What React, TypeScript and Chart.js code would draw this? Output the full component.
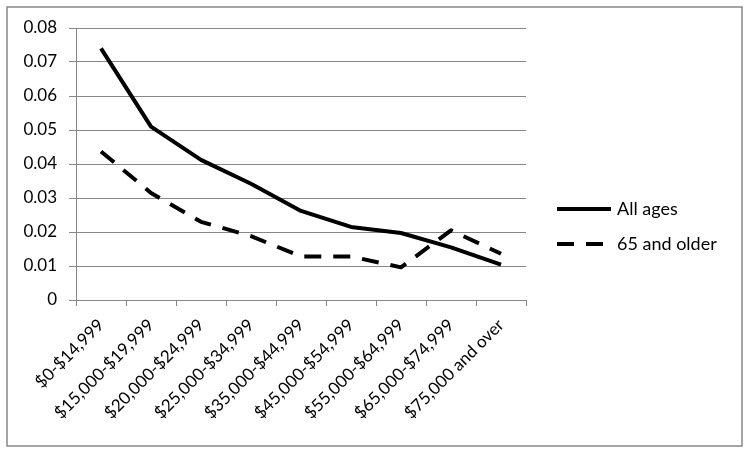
import React, { useEffect, useRef } from "react";
import { Chart, registerables } from "chart.js";

Chart.register(...registerables);

const categories = [
  "$0-$14,999",
  "$15,000-$19,999",
  "$20,000-$24,999",
  "$25,000-$34,999",
  "$35,000-$44,999",
  "$45,000-$54,999",
  "$55,000-$64,999",
  "$65,000-$74,999",
  "$75,000 and over",
];

const allAges = [0.074, 0.051, 0.0412, 0.0342, 0.0262, 0.0215, 0.0197, 0.0155, 0.0104];
const olderAges = [0.0437, 0.0315, 0.023, 0.0188, 0.0128, 0.0128, 0.0096, 0.0205, 0.0136];

const seriesNames = ["All ages", "65 and older"];
const yTickLabels = ["0", "0.01", "0.02", "0.03", "0.04", "0.05", "0.06", "0.07", "0.08"];

const FONT = "Lato, 'Open Sans', 'Liberation Sans', sans-serif";
const GRAY = "#878787";

const borderPlugin = {
  id: "outerBorder",
  afterDraw(chart: any) {
    const ctx = chart.ctx;
    ctx.save();
    ctx.strokeStyle = GRAY;
    ctx.lineWidth = 1.5;
    ctx.strokeRect(7, 7, 735, 439);
    ctx.restore();
  },
};

const legendPlugin = {
  id: "sideLegend",
  afterDraw(chart: any) {
    const ctx = chart.ctx;
    const x0 = chart.chartArea.right + 31;
    const ys = [209, 244];
    ctx.save();
    chart.data.datasets.forEach((ds: any, i: number) => {
      const y = ys[i];
      ctx.beginPath();
      ctx.strokeStyle = ds.borderColor;
      ctx.lineWidth = ds.borderWidth;
      ctx.setLineDash(ds.borderDash || []);
      ctx.lineCap = "butt";
      ctx.moveTo(x0, y);
      ctx.lineTo(x0 + 54, y);
      ctx.stroke();
      ctx.setLineDash([]);
      ctx.fillStyle = "#000";
      ctx.font = `18px ${FONT}`;
      ctx.textBaseline = "middle";
      ctx.textAlign = "left";
      ctx.fillText(ds.label, x0 + 60, y);
    });
    ctx.restore();
  },
};

export default function App() {
  const ref = useRef<HTMLCanvasElement | null>(null);

  useEffect(() => {
    if (!ref.current) return;
    const chart = new Chart(ref.current, {
      type: "line",
      data: {
        labels: categories,
        datasets: [
          {
            label: seriesNames[0],
            data: allAges,
            borderColor: "#000",
            borderWidth: 4,
            pointRadius: 0,
            tension: 0,
            borderJoinStyle: "round",
            borderCapStyle: "butt",
          },
          {
            label: seriesNames[1],
            data: olderAges,
            borderColor: "#000",
            borderWidth: 4,
            borderDash: [17, 12],
            pointRadius: 0,
            tension: 0,
            borderJoinStyle: "round",
            borderCapStyle: "butt",
          },
        ],
      },
      options: {
        responsive: false,
        animation: false,
        devicePixelRatio: 1,
        layout: { padding: { left: 0, top: 28, right: 223, bottom: 0 } },
        plugins: {
          legend: { display: false },
          tooltip: { enabled: false },
        },
        scales: {
          x: {
            offset: true,
            grid: {
              offset: true,
              drawOnChartArea: false,
              drawTicks: true,
              tickLength: 6,
              color: GRAY,
            },
            border: { display: true, color: GRAY, width: 1 },
            ticks: {
              minRotation: 45,
              maxRotation: 45,
              autoSkip: false,
              color: "#000",
              padding: 9,
              font: { family: FONT, size: 17 },
            },
            afterFit(scale: any) {
              scale.height = 154;
            },
          },
          y: {
            min: 0,
            max: 0.08,
            ticks: {
              stepSize: 0.01,
              color: "#000",
              padding: 12,
              font: { family: FONT, size: 17 },
              callback: (_v: any, i: number) => yTickLabels[i],
            },
            grid: { color: GRAY, tickLength: 7, lineWidth: 1 },
            border: { display: true, color: GRAY, width: 1 },
            afterFit(scale: any) {
              scale.width = 76;
            },
          },
        },
      },
      plugins: [borderPlugin, legendPlugin],
    });
    return () => chart.destroy();
  }, []);

  return (
    <div style={{ position: "absolute", left: 0, top: 0, width: 749, height: 454, background: "#fff" }}>
      <canvas ref={ref} width={749} height={454} style={{ display: "block" }} />
    </div>
  );
}
